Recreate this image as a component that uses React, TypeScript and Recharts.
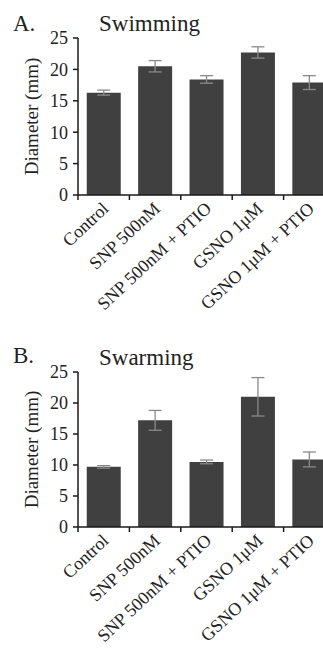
import React from 'react';
import { BarChart, Bar, XAxis, YAxis, ErrorBar } from 'recharts';

const categories = ['Control', 'SNP 500nM', 'SNP 500nM + PTIO', 'GSNO 1μM', 'GSNO 1μM + PTIO'];
const swimmingMean = [16.3, 20.5, 18.4, 22.7, 17.9];
const swimmingErr = [0.4, 0.9, 0.6, 0.9, 1.1];
const swarmingMean = [9.7, 17.2, 10.5, 21.0, 10.9];
const swarmingErr = [0.2, 1.6, 0.3, 3.1, 1.2];
const yTicks = [0, 5, 10, 15, 20, 25];

const FONT = '"Liberation Serif", "Times New Roman", serif';
const INK = '#1a1a1a';

const buildRows = (means: number[], errs: number[]) =>
    categories.map((name, i) => ({ name, mean: means[i], err: errs[i] }));

// tick mark sits on the category boundary, label rotated under the bar
const CategoryTick = (props: any) => {
    const { x, y, payload } = props;
    const half = payload?.offset ?? 25.6;
    const ax = x + 6;
    const ay = y + 15;
    return (
        <g>
            <line x1={x - half} y1={y} x2={x - half} y2={y + 5} stroke={INK} strokeWidth={1.5} />
            <text
                x={ax}
                y={ay}
                textAnchor="end"
                transform={`rotate(-43, ${ax}, ${ay})`}
                fontSize={18}
                fontFamily={FONT}
                fill="#222"
            >
                {payload.value}
            </text>
        </g>
    );
};

interface PanelProps {
    rows: { name: string; mean: number; err: number }[];
    plotHeight: number;
}

const Panel: React.FC<PanelProps> = ({ rows, plotHeight }) => (
    <BarChart
        width={335}
        height={38 + plotHeight + 130 + 5}
        data={rows}
        margin={{ top: 38, right: 0, bottom: 5, left: 0 }}
        barCategoryGap="17%"
    >
        <XAxis
            dataKey="name"
            interval={0}
            tickSize={0}
            tickMargin={0}
            height={130}
            axisLine={{ stroke: INK, strokeWidth: 1.5 }}
            tickLine={false}
            tick={<CategoryTick />}
        />
        <YAxis
            domain={[0, 25]}
            ticks={yTicks}
            width={78}
            tickSize={5}
            tickMargin={5}
            axisLine={{ stroke: INK, strokeWidth: 1.5 }}
            tickLine={{ stroke: INK, strokeWidth: 1.5 }}
            tick={{ fontSize: 18, fill: '#222', fontFamily: FONT }}
            label={{
                value: 'Diameter (mm)',
                angle: -90,
                position: 'insideLeft',
                offset: 31,
                style: { textAnchor: 'middle', fontSize: 19, fill: '#222', fontFamily: FONT },
            }}
        />
        <Bar dataKey="mean" fill="#404040" isAnimationActive={false}>
            <ErrorBar dataKey="err" width={6.5} stroke="#8a8a8a" strokeWidth={1.3} direction="y" />
        </Bar>
    </BarChart>
);

const titleStyle = (left: number, top: number, size: number): React.CSSProperties => ({
    position: 'absolute',
    left,
    top,
    fontFamily: FONT,
    fontSize: size,
    lineHeight: 1,
    color: '#222',
    whiteSpace: 'nowrap',
});

export default function App() {
    return (
        <div
            style={{
                position: 'absolute',
                left: 0,
                top: 0,
                width: 323,
                height: 650,
                overflow: 'hidden',
                background: '#fff',
            }}
        >
            <div style={{ position: 'absolute', left: 0, top: 0 }}>
                <Panel rows={buildRows(swimmingMean, swimmingErr)} plotHeight={157} />
            </div>
            <div style={{ position: 'absolute', left: 0, top: 334 }}>
                <Panel rows={buildRows(swarmingMean, swarmingErr)} plotHeight={155} />
            </div>
            <div style={titleStyle(13, 12, 23)}>A.</div>
            <div style={titleStyle(99, 11.5, 23)}>Swimming</div>
            <div style={titleStyle(13, 344, 23)}>B.</div>
            <div style={titleStyle(99, 346, 23)}>Swarming</div>
        </div>
    );
}
